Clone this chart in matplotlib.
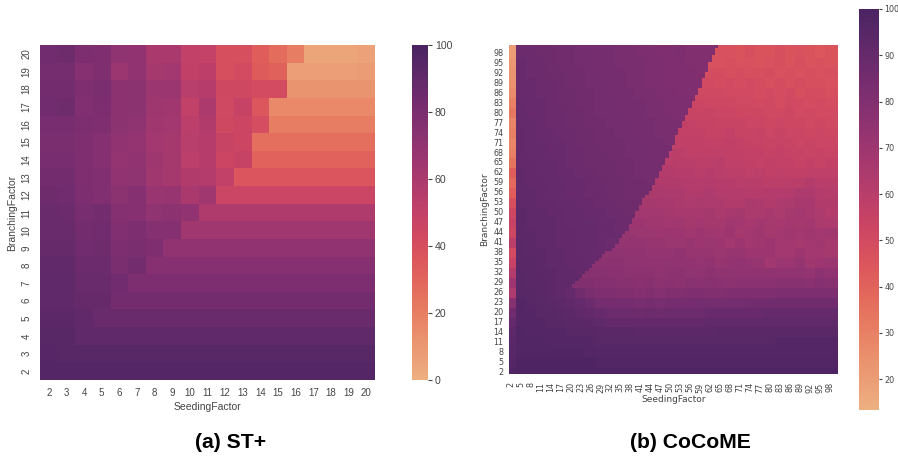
import numpy as np
import matplotlib
matplotlib.use("Agg")
import matplotlib.pyplot as plt
import seaborn as sns

# (a) ST+ : rows top to bottom = branching 20..2, columns = seeding 2..20
st_seeding = list(range(2, 21))
st_branching = list(range(20, 1, -1))
st_values = [
    [84, 85, 79, 78, 71, 70, 60, 60, 50, 49, 40, 40, 33, 27, 20, 5, 5, 5, 6],
    [82, 82, 75, 78, 66, 70, 62, 63, 51, 52, 40, 42, 34, 32, 7, 7, 7, 7, 8],
    [83, 83, 78, 80, 72, 73, 66, 66, 54, 55, 44, 44, 42, 42, 12, 12, 12, 12, 12],
    [84, 85, 77, 79, 72, 73, 65, 64, 50, 59, 43, 48, 36, 16, 16, 16, 16, 16, 16],
    [81, 81, 79, 78, 73, 71, 64, 63, 53, 57, 44, 45, 41, 20, 20, 20, 20, 20, 20],
    [80, 80, 78, 76, 70, 69, 63, 62, 54, 55, 47, 45, 26, 26, 26, 26, 26, 26, 26],
    [81, 81, 78, 76, 69, 70, 65, 62, 53, 55, 45, 48, 31, 31, 31, 31, 31, 31, 31],
    [83, 83, 78, 77, 70, 71, 64, 62, 57, 56, 50, 37, 37, 37, 37, 37, 37, 37, 37],
    [85, 84, 79, 77, 73, 76, 67, 68, 60, 64, 46, 46, 46, 46, 46, 46, 46, 46, 46],
    [87, 86, 81, 83, 76, 75, 71, 72, 70, 58, 58, 58, 58, 58, 58, 58, 58, 58, 58],
    [87, 87, 83, 84, 77, 79, 76, 76, 64, 64, 64, 64, 64, 64, 64, 64, 64, 64, 64],
    [88, 88, 84, 85, 79, 80, 78, 70, 70, 70, 70, 70, 70, 70, 70, 70, 70, 70, 70],
    [90, 90, 86, 86, 80, 83, 75, 75, 75, 75, 75, 75, 75, 75, 75, 75, 75, 75, 75],
    [91, 91, 87, 87, 84, 79, 79, 79, 79, 79, 79, 79, 79, 79, 79, 79, 79, 79, 79],
    [91, 91, 88, 88, 83, 83, 83, 83, 83, 83, 83, 83, 83, 83, 83, 83, 83, 83, 83],
    [92, 92, 90, 87, 87, 87, 87, 87, 87, 87, 87, 87, 87, 87, 87, 87, 87, 87, 87],
    [94, 94, 91, 91, 91, 91, 91, 91, 91, 91, 91, 91, 91, 91, 91, 91, 91, 91, 91],
    [95, 94, 94, 94, 94, 94, 94, 94, 94, 94, 94, 94, 94, 94, 94, 94, 94, 94, 94],
    [96, 96, 96, 96, 96, 96, 96, 96, 96, 96, 96, 96, 96, 96, 96, 96, 96, 96, 96],
]

# (b) CoCoME : factors 2..100, values read per 3x3 patch, top row first
coco_factors = list(range(2, 101))
coco_ticks = list(range(2, 99, 3))

# light column at seeding 2-3
coco_band = [20, 22, 23, 24, 26, 30, 33, 28, 30, 28, 30, 34, 42, 38, 42, 48, 52,
             55, 52, 60, 50, 55, 62, 70, 64, 78, 86, 90, 93, 94, 95, 96, 97]

coco_patches = [
    [88, 88, 87, 87, 86, 86, 85, 85, 84, 84, 83, 83, 82, 82, 81, 81, 82, 80, 80, 80, 47, 47, 46, 48, 46, 46, 48, 46, 47, 46, 45, 46],
    [89, 88, 88, 87, 86, 86, 85, 85, 84, 84, 83, 83, 83, 82, 82, 81, 81, 80, 80, 48, 47, 48, 47, 47, 46, 47, 48, 46, 48, 46, 47, 46],
    [89, 88, 88, 87, 87, 86, 86, 85, 84, 84, 84, 83, 83, 82, 82, 81, 81, 81, 80, 50, 49, 48, 49, 48, 48, 49, 47, 48, 47, 48, 47, 48],
    [89, 89, 88, 88, 87, 86, 86, 85, 85, 84, 84, 83, 83, 82, 82, 81, 81, 81, 52, 50, 49, 50, 49, 50, 49, 48, 49, 48, 49, 48, 48, 47],
    [89, 89, 88, 88, 87, 87, 86, 86, 85, 84, 84, 84, 83, 83, 82, 82, 81, 81, 52, 51, 51, 50, 50, 50, 49, 50, 49, 50, 48, 49, 49, 48],
    [90, 89, 89, 88, 87, 87, 86, 86, 85, 85, 84, 84, 84, 83, 83, 82, 82, 81, 53, 52, 52, 52, 51, 51, 50, 51, 49, 51, 50, 49, 50, 49],
    [90, 89, 89, 88, 88, 87, 87, 86, 85, 85, 85, 84, 84, 83, 83, 82, 82, 55, 54, 54, 53, 53, 52, 52, 52, 51, 51, 52, 50, 51, 50, 50],
    [90, 90, 89, 88, 88, 87, 87, 86, 86, 85, 85, 85, 84, 84, 83, 83, 82, 56, 55, 55, 54, 54, 54, 53, 53, 52, 53, 52, 52, 51, 52, 51],
    [91, 90, 89, 89, 88, 88, 87, 87, 86, 86, 85, 85, 84, 84, 83, 83, 57, 56, 56, 55, 55, 56, 54, 54, 55, 53, 54, 53, 53, 52, 53, 52],
    [91, 90, 90, 89, 89, 88, 87, 87, 86, 86, 86, 85, 85, 84, 84, 83, 58, 57, 57, 56, 56, 57, 56, 55, 55, 54, 55, 54, 53, 54, 53, 53],
    [91, 90, 90, 89, 89, 88, 88, 87, 87, 86, 86, 85, 85, 84, 84, 60, 59, 58, 58, 57, 58, 57, 57, 56, 56, 55, 56, 55, 55, 54, 55, 54],
    [91, 91, 90, 90, 89, 88, 88, 87, 87, 87, 86, 86, 85, 85, 84, 61, 60, 60, 59, 59, 60, 58, 58, 57, 56, 57, 56, 56, 55, 56, 55, 56],
    [92, 91, 90, 90, 89, 89, 88, 88, 87, 87, 86, 86, 85, 85, 63, 62, 61, 61, 60, 61, 60, 59, 59, 58, 59, 57, 58, 57, 57, 58, 58, 58],
    [92, 91, 91, 90, 90, 89, 89, 88, 88, 87, 87, 86, 86, 85, 64, 63, 63, 62, 62, 62, 61, 61, 60, 60, 60, 59, 59, 60, 60, 62, 60, 60],
    [92, 92, 91, 90, 90, 89, 89, 88, 88, 87, 87, 86, 86, 66, 65, 64, 64, 63, 63, 64, 62, 62, 62, 61, 61, 62, 62, 62, 64, 64, 62, 61],
    [92, 92, 91, 91, 90, 90, 89, 89, 88, 88, 87, 87, 68, 67, 66, 66, 65, 64, 65, 64, 64, 63, 63, 65, 64, 63, 64, 65, 66, 66, 63, 63],
    [93, 92, 92, 91, 91, 90, 90, 89, 89, 88, 88, 87, 69, 68, 68, 67, 66, 66, 66, 67, 65, 66, 67, 65, 65, 66, 65, 67, 68, 66, 64, 62],
    [93, 92, 92, 92, 91, 90, 90, 90, 89, 89, 88, 71, 70, 69, 69, 68, 69, 67, 68, 67, 67, 69, 68, 66, 68, 67, 66, 68, 67, 68, 65, 64],
    [93, 93, 92, 92, 91, 91, 90, 90, 89, 89, 88, 72, 71, 71, 70, 70, 70, 69, 70, 69, 68, 70, 67, 68, 69, 67, 68, 69, 68, 69, 68, 69],
    [94, 93, 92, 92, 91, 91, 90, 90, 89, 88, 74, 73, 73, 72, 72, 71, 71, 72, 70, 71, 70, 68, 70, 68, 69, 70, 68, 68, 67, 68, 69, 67],
    [94, 93, 93, 92, 92, 91, 90, 90, 89, 75, 75, 74, 74, 73, 73, 73, 74, 72, 72, 72, 71, 72, 72, 70, 70, 70, 68, 68, 70, 68, 68, 67],
    [94, 94, 93, 92, 92, 91, 91, 90, 76, 76, 76, 75, 75, 74, 74, 75, 74, 74, 73, 74, 72, 73, 74, 73, 72, 68, 71, 70, 73, 69, 70, 71],
    [95, 94, 93, 93, 92, 92, 91, 78, 78, 77, 77, 76, 76, 76, 75, 76, 76, 75, 75, 76, 75, 75, 75, 74, 75, 74, 74, 74, 75, 73, 76, 74],
    [95, 94, 94, 93, 92, 92, 80, 80, 79, 79, 78, 78, 77, 78, 76, 77, 76, 78, 77, 78, 77, 76, 77, 77, 77, 77, 78, 78, 78, 77, 79, 78],
    [95, 95, 94, 93, 92, 90, 86, 83, 81, 81, 80, 80, 79, 80, 79, 80, 80, 81, 81, 80, 80, 81, 81, 81, 81, 81, 82, 82, 82, 82, 82, 82],
    [96, 95, 95, 94, 93, 92, 90, 88, 85, 84, 84, 84, 83, 84, 83, 84, 84, 84, 85, 85, 85, 85, 85, 86, 86, 86, 86, 86, 86, 86, 86, 86],
    [96, 96, 95, 95, 94, 93, 92, 91, 89, 88, 88, 88, 87, 88, 87, 88, 88, 88, 88, 89, 89, 89, 89, 89, 89, 90, 90, 90, 90, 90, 90, 90],
    [96, 96, 96, 95, 95, 94, 94, 93, 92, 91, 91, 91, 91, 91, 91, 91, 91, 91, 91, 92, 92, 92, 92, 92, 92, 92, 92, 92, 92, 92, 92, 92],
    [97, 96, 96, 96, 96, 95, 95, 95, 94, 94, 94, 94, 93, 93, 93, 93, 93, 93, 93, 93, 94, 94, 94, 94, 94, 94, 94, 94, 94, 94, 94, 94],
    [97, 97, 97, 96, 96, 96, 96, 96, 95, 95, 95, 95, 95, 95, 95, 95, 95, 95, 95, 95, 95, 95, 95, 95, 95, 95, 96, 96, 96, 96, 96, 96],
    [97, 97, 97, 97, 97, 97, 97, 96, 96, 96, 96, 96, 96, 96, 96, 96, 96, 96, 96, 96, 96, 96, 96, 96, 96, 96, 96, 96, 96, 96, 96, 96],
    [98, 98, 98, 98, 98, 98, 98, 98, 97, 97, 97, 97, 97, 97, 97, 97, 97, 97, 97, 97, 97, 97, 97, 97, 97, 97, 97, 97, 97, 97, 97, 97],
    [98, 98, 98, 98, 98, 98, 98, 98, 98, 98, 98, 98, 98, 98, 98, 98, 98, 98, 98, 98, 98, 98, 98, 98, 98, 98, 98, 98, 98, 98, 98, 98],
]

# seeding factor where the sharp dark/light edge sits, branching 100 down to 28
coco_edge = [65, 64, 64, 63, 63, 62, 62, 62, 61, 61, 60, 60, 60, 59, 59, 58, 58, 57, 57,
             56, 56, 55, 55, 54, 54, 53, 53, 52, 52, 52, 51, 51, 50, 50, 49, 49, 48, 48,
             47, 47, 46, 46, 45, 45, 44, 43, 42, 42, 41, 41, 40, 40, 39, 39, 38, 38, 37,
             36, 35, 35, 34, 33, 31, 30, 29, 28, 27, 26, 25, 24, 23, 22, 21]

coco_table = np.column_stack([coco_band, coco_patches])

# spread the patches over the 99 x 99 cells, keeping the edge sharp
coco_values = np.zeros((99, 99))
for i, b in enumerate(coco_factors[::-1]):
    r = 32 - min((b - 1) // 3, 32)
    for j, s in enumerate(coco_factors):
        c = min((s - 1) // 3, 32)
        if i < len(coco_edge):
            k = (coco_edge[i] - 1) // 3
            c = min(c, k - 1) if s < coco_edge[i] else max(c, k + 1)
        coco_values[i, j] = coco_table[r, c]

W, H = 898, 459
GREY = "#444444"


def box(x0, y0, x1, y1):
    return [x0 / W, 1 - y1 / H, (x1 - x0) / W, (y1 - y0) / H]


fig = plt.figure(figsize=(W / 100, H / 100), dpi=100)

# panel a
ax1 = fig.add_axes(box(40, 45, 375, 380))
cax1 = fig.add_axes(box(412, 45, 428, 380))
sns.heatmap(np.array(st_values), ax=ax1, cbar_ax=cax1, cmap="flare", vmin=0, vmax=100,
            xticklabels=st_seeding, yticklabels=st_branching)
ax1.set_xticklabels(st_seeding, rotation=0, fontsize=7, color=GREY, family="Liberation Sans")
ax1.set_yticklabels(st_branching, rotation=90, va="center", fontsize=7, color=GREY, family="Liberation Sans")
ax1.set_xlabel("SeedingFactor", fontsize=7.5, color=GREY, family="Liberation Sans", labelpad=3)
ax1.set_ylabel("BranchingFactor", fontsize=7.5, color=GREY, family="Liberation Sans", labelpad=3)
ax1.tick_params(length=0, pad=6)
cax1.set_yticks([0, 20, 40, 60, 80, 100])
cax1.tick_params(length=3, width=0.8, pad=2, labelsize=7.6, labelcolor=GREY, color=GREY)
for lab in cax1.get_yticklabels():
    lab.set_family("Liberation Sans")

# panel b
ax2 = fig.add_axes(box(509, 45, 838, 374))
cax2 = fig.add_axes(box(859, 9, 879, 410))
sns.heatmap(coco_values, ax=ax2, cbar_ax=cax2, cmap="flare", vmin=13.3, vmax=100)
ax2.set_xticks([t - 2 + 0.5 for t in coco_ticks])
ax2.set_xticklabels(coco_ticks, rotation=90, fontsize=5.8, color=GREY)
ax2.set_yticks([100 - t + 0.5 for t in coco_ticks])
ax2.set_yticklabels(coco_ticks, rotation=0, fontsize=5.8, color=GREY)
ax2.set_xlabel("SeedingFactor", fontsize=6.5, color=GREY, labelpad=1.5)
ax2.set_ylabel("BranchingFactor", fontsize=6.5, color=GREY, labelpad=3)
ax2.tick_params(axis="x", length=0, pad=6)
ax2.tick_params(axis="y", length=0, pad=4)
cax2.set_yticks([20, 30, 40, 50, 60, 70, 80, 90, 100])
cax2.tick_params(length=2.5, width=0.8, pad=1.5, labelsize=5.8, labelcolor=GREY, color=GREY)

# captions
fig.text(231 / W, 1 - 442 / H, "(a) ST+", fontsize=15.2, fontweight="bold",
         family="Liberation Sans", ha="center", va="center", color="black")
fig.text(690 / W, 1 - 442 / H, "(b) CoCoME", fontsize=15.2, fontweight="bold",
         family="Liberation Sans", ha="center", va="center", color="black")

fig.savefig("out.png", dpi=100)
